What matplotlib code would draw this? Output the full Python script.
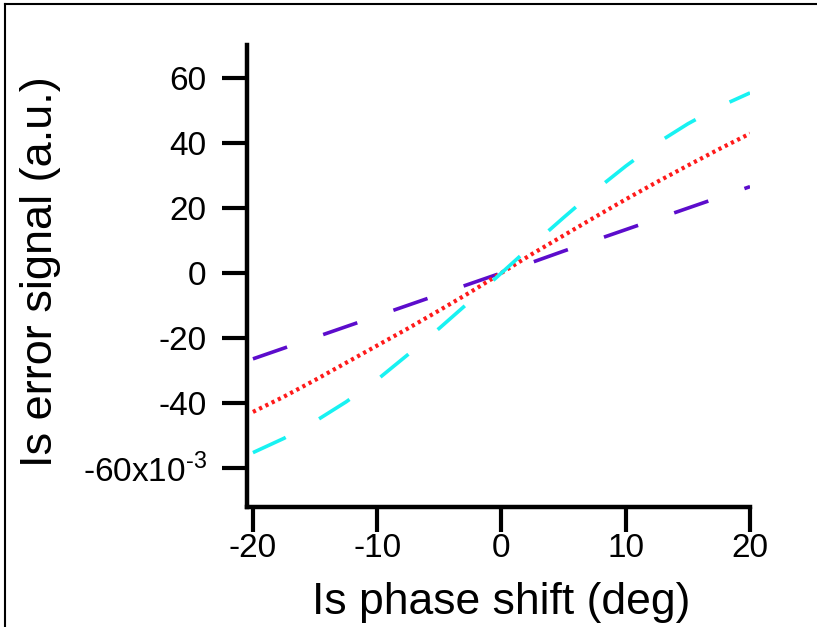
import matplotlib
matplotlib.use("Agg")
import matplotlib.pyplot as plt
from matplotlib.lines import Line2D
from matplotlib.ticker import FixedLocator, FuncFormatter

plt.rcParams['font.family'] = ['Liberation Sans', 'DejaVu Sans']
plt.rcParams['axes.unicode_minus'] = False
plt.rcParams['lines.scale_dashes'] = False
plt.rcParams['mathtext.fontset'] = 'custom'
plt.rcParams['mathtext.rm'] = 'Liberation Sans'

# phase shift (deg) and error signals (units of 1e-3 a.u.)
phase = [-20, -17.5, -15, -12.5, -10, -7.5, -5, -2.5, 0,
         2.5, 5, 7.5, 10, 12.5, 15, 17.5, 20]
sig_cyan = [-55.2, -50.8, -45.6, -39.6, -32.8, -25.0, -17.0, -8.6, 0.0,
            8.6, 17.0, 25.2, 32.8, 39.8, 45.8, 51.0, 55.3]
sig_red = [-42.7, -38.0, -32.9, -27.6, -22.3, -17.0, -11.5, -5.9, 0.0,
           5.9, 11.5, 17.1, 22.6, 27.9, 33.0, 38.0, 42.8]
sig_purple = [-26.4, -23.1, -19.8, -16.5, -13.2, -9.9, -6.6, -3.3, 0.0,
              3.3, 6.7, 10.0, 13.3, 16.6, 19.9, 23.2, 26.5]

xticks = [-20, -10, 0, 10, 20]
yticks = [-60, -40, -20, 0, 20, 40, 60]

fig = plt.figure(figsize=(8.17, 6.27), dpi=100)
ax = fig.add_axes([0.3023, 0.1914, 0.6157, 0.7368])

ax.plot(phase, sig_purple, color='#5c0ccc', lw=2.6, dashes=(26, 27.5))
ax.plot(phase, sig_red, color='#ff1a1a', lw=3.0, dashes=(2.3, 2.7))
ax.plot(phase, sig_cyan, color='#18f2f2', lw=2.6, dashes=(26, 27.5))

ax.set_xlim(-20.48, 20.0)
ax.set_ylim(-71.9, 70.0)

ax.xaxis.set_major_locator(FixedLocator(xticks))
ax.yaxis.set_major_locator(FixedLocator(yticks))


def ylab(v, pos):
    if v == -60:
        return '-60x10$^{\\mathregular{\u20103}}$'
    return '%d' % v


ax.yaxis.set_major_formatter(FuncFormatter(ylab))
ax.xaxis.set_major_formatter(FuncFormatter(lambda v, p: '%d' % v))

for s in ['top', 'right']:
    ax.spines[s].set_visible(False)
for s in ['left', 'bottom']:
    ax.spines[s].set_linewidth(3.2)
    ax.spines[s].set_capstyle('projecting')

ax.tick_params(axis='both', direction='out', length=18, width=3,
               labelsize=24, color='black')
ax.tick_params(axis='y', pad=11)
ax.tick_params(axis='x', pad=1)

ax.set_xlabel('Is phase shift (deg)', fontsize=32, va='top')
ax.set_ylabel('Is error signal (a.u.)', fontsize=32.5)
ax.xaxis.set_label_coords(0.505, -0.162)
ax.yaxis.set_label_coords(-0.37, 0.51)

# partial frame of the original figure window
fig.add_artist(Line2D([0.0065, 0.0065], [0, 0.993], transform=fig.transFigure,
                      color='black', lw=1.5))
fig.add_artist(Line2D([0.0065, 1.0], [0.993, 0.993], transform=fig.transFigure,
                      color='black', lw=1.5))

fig.savefig('out.png', dpi=100)
